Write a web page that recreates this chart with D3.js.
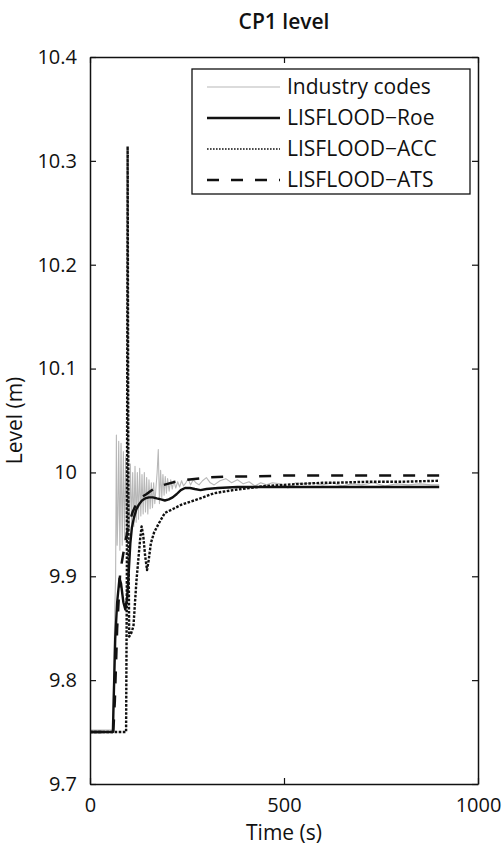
<!DOCTYPE html>
<html>
<head>
<meta charset="utf-8">
<script src="https://cdn.jsdelivr.net/npm/d3@7"></script>
<style>
  html, body { margin: 0; padding: 0; background: #fff; }
  svg { display: block; font-family: "Open Sans", "Noto Sans", sans-serif; }
</style>
</head>
<body>
<svg id="chart" width="502" height="849"></svg>
<script>
// CP1 water level over time: industry codes vs three LISFLOOD solvers

const xTicks = [0, 500, 1000];
const yTicks = [9.7, 9.8, 9.9, 10.0, 10.1, 10.2, 10.3, 10.4];
const yTickLabels = ["9.7", "9.8", "9.9", "10", "10.1", "10.2", "10.3", "10.4"];

const seriesNames = ["Industry codes", "LISFLOOD\u2212Roe", "LISFLOOD\u2212ACC", "LISFLOOD\u2212ATS"];

// Industry codes (time s, level m)
const industryTime = [0, 58, 61, 64, 66, 68, 70, 72, 74, 77, 80, 83, 86, 89, 92, 95, 98, 101, 104, 107,
  110, 113, 116, 119, 122, 125, 128, 131, 134, 137, 140, 143, 146, 149, 152, 155, 158, 161, 164, 167,
  170, 173, 176, 179, 182, 185, 188, 191, 194, 197, 200, 204, 208, 212, 216, 221, 226, 231, 236, 241,
  247, 253, 259, 266, 273, 281, 290, 300, 310, 320, 335, 350, 365, 380, 395, 410, 425, 440, 455, 470,
  490, 510, 530, 550, 575, 600, 625, 650, 675, 700, 730, 760, 790, 820, 850, 880, 900];
const industryLevel = [9.752, 9.752, 9.80, 9.87, 9.90, 10.036, 9.93, 9.96, 10.03, 9.925, 10.028, 9.93, 10.02, 9.935, 10.015, 9.94, 10.005, 9.945, 10.008, 9.95,
  10.0, 9.948, 10.006, 9.952, 10.0, 9.955, 10.004, 9.958, 9.998, 9.96, 10.0, 9.962, 9.995, 9.96, 9.993, 9.965, 9.99, 9.966, 9.99, 9.97,
  9.985, 10.0, 10.022, 9.97, 10.002, 9.976, 9.998, 9.978, 9.996, 9.98, 9.994, 9.982, 9.993, 9.984, 9.992, 9.985, 9.991, 9.986, 9.992, 9.987,
  9.99, 9.994, 9.988, 9.993, 9.99, 9.988, 9.992, 9.995, 9.99, 9.988, 9.992, 9.994, 9.99, 9.993, 9.989, 9.991, 9.987, 9.99, 9.988, 9.99,
  9.989, 9.985, 9.99, 9.989, 9.99, 9.988, 9.99, 9.987, 9.989, 9.988, 9.99, 9.987, 9.989, 9.988, 9.989, 9.988, 9.988];

// LISFLOOD-Roe
const roeTime = [0, 59, 61, 65, 70, 76, 80, 86, 91, 96, 100, 104, 108, 113, 119, 126, 134, 142, 152, 162,
  172, 183, 193, 203, 213, 223, 234, 245, 258, 270, 285, 300, 330, 380, 450, 550, 650, 750, 850, 900];
const roeLevel = [9.75, 9.75, 9.78, 9.84, 9.875, 9.898, 9.893, 9.875, 9.868, 9.88, 9.905, 9.932, 9.947, 9.956, 9.964, 9.969, 9.973, 9.975, 9.976, 9.976,
  9.975, 9.974, 9.973, 9.974, 9.976, 9.979, 9.983, 9.985, 9.985, 9.984, 9.983, 9.984, 9.985, 9.986, 9.986, 9.986, 9.986, 9.986, 9.986, 9.986];

// LISFLOOD-ACC
const accTime = [0, 93, 95, 97, 99, 101, 106, 112, 116, 120, 125, 129, 133, 137, 142, 147, 151, 157, 165, 176,
  193, 215, 236, 260, 284, 320, 369, 410, 455, 500, 541, 600, 627, 713, 800, 900];
const accLevel = [9.75, 9.75, 9.90, 10.314, 9.95, 9.842, 9.845, 9.852, 9.875, 9.897, 9.918, 9.935, 9.948, 9.94, 9.92, 9.906, 9.915, 9.932, 9.942, 9.950,
  9.961, 9.965, 9.969, 9.972, 9.975, 9.980, 9.983, 9.985, 9.987, 9.988, 9.989, 9.990, 9.990, 9.991, 9.991, 9.992];

// LISFLOOD-ATS
const atsTime = [0, 60, 64, 70, 78, 85, 92, 100, 110, 120, 132, 145, 160, 180, 200, 220, 250, 300, 350, 400,
  500, 600, 700, 800, 900];
const atsLevel = [9.75, 9.75, 9.78, 9.85, 9.905, 9.92, 9.935, 9.95, 9.962, 9.97, 9.976, 9.979, 9.983, 9.987, 9.989, 9.991, 9.993, 9.995, 9.996, 9.996,
  9.997, 9.997, 9.997, 9.997, 9.997];

const svg = d3.select("#chart");
const margin = { left: 90, right: 24, top: 57, bottom: 65 };
const W = 502, H = 849;
const x0 = margin.left, x1 = W - margin.right;
const y0 = H - margin.bottom, y1 = margin.top;

const x = d3.scaleLinear().domain([0, 1000]).range([x0, x1]);
const y = d3.scaleLinear().domain([9.7, 10.4]).range([y0, y1]);

const zip = (ts, vs) => ts.map((t, i) => [t, vs[i]]);
const line = d3.line().x(d => x(d[0])).y(d => y(d[1]));

const styles = [
  { stroke: "#b8b8b8", width: 1.1, dash: null },
  { stroke: "#111", width: 2.4, dash: null },
  { stroke: "#111", width: 2.4, dash: "2.6,1.5" },
  { stroke: "#111", width: 2.5, dash: "12,12" }
];
const series = [
  zip(industryTime, industryLevel),
  zip(roeTime, roeLevel),
  zip(accTime, accLevel),
  zip(atsTime, atsLevel)
];

const plot = svg.append("g");
// drawing order: grey reference, dotted, dashed, solid on top
[0, 2, 3, 1].forEach(i => {
  plot.append("path")
    .datum(series[i])
    .attr("fill", "none")
    .attr("stroke", styles[i].stroke)
    .attr("stroke-width", styles[i].width)
    .attr("stroke-dasharray", styles[i].dash)
    .attr("stroke-linejoin", "round")
    .attr("d", line);
});

// axes box with inward ticks on all four sides
const tickLen = 6;

const bottomAxis = d3.axisBottom(x).tickValues(xTicks).tickSizeInner(-tickLen).tickSizeOuter(0).tickPadding(14).tickFormat(d3.format("d"));
const topAxis = d3.axisTop(x).tickValues(xTicks).tickSizeInner(-tickLen).tickSizeOuter(0).tickFormat("");
const leftAxis = d3.axisLeft(y).tickValues(yTicks).tickSizeInner(-tickLen).tickSizeOuter(0).tickPadding(13).tickFormat((d, i) => yTickLabels[i]);
const rightAxis = d3.axisRight(y).tickValues(yTicks).tickSizeInner(-tickLen).tickSizeOuter(0).tickFormat("");

function styleAxis(g) {
  g.select(".domain").attr("stroke", "#111").attr("stroke-width", 1.5);
  g.selectAll(".tick line").attr("stroke", "#111").attr("stroke-width", 1.2);
  g.selectAll(".tick text").attr("fill", "#111").attr("font-size", 20).attr("font-family", "Open Sans, Noto Sans, sans-serif");
}

svg.append("g").attr("transform", `translate(0,${y0})`).call(bottomAxis).call(styleAxis);
svg.append("g").attr("transform", `translate(0,${y1})`).call(topAxis).call(styleAxis);
svg.append("g").attr("transform", `translate(${x0},0)`).call(leftAxis).call(styleAxis);
svg.append("g").attr("transform", `translate(${x1},0)`).call(rightAxis).call(styleAxis);

// title and axis labels
svg.append("text")
  .attr("x", (x0 + x1) / 2).attr("y", 29)
  .attr("text-anchor", "middle").attr("font-size", 21).attr("font-weight", 600).attr("fill", "#111")
  .text("CP1 level");
svg.append("text")
  .attr("x", (x0 + x1) / 2).attr("y", 840)
  .attr("text-anchor", "middle").attr("font-size", 21).attr("fill", "#111")
  .text("Time (s)");
svg.append("text")
  .attr("transform", `translate(22,${(y0 + y1) / 2}) rotate(-90)`)
  .attr("text-anchor", "middle").attr("font-size", 21).attr("fill", "#111")
  .text("Level (m)");

// legend
const lg = svg.append("g").attr("transform", "translate(192,69)");
lg.append("rect").attr("width", 278).attr("height", 125)
  .attr("fill", "#fff").attr("stroke", "#111").attr("stroke-width", 1.3);
seriesNames.forEach((name, i) => {
  const ry = 18 + i * 31;
  lg.append("line")
    .attr("x1", 15).attr("x2", 88).attr("y1", ry).attr("y2", ry)
    .attr("stroke", styles[i].stroke)
    .attr("stroke-width", i === 2 ? 1.6 : styles[i].width)
    .attr("stroke-dasharray", i === 2 ? "1.6,1.4" : styles[i].dash);
  lg.append("text")
    .attr("x", 95).attr("y", ry).attr("dy", "0.35em")
    .attr("font-size", 21).attr("fill", "#111")
    .text(name);
});
</script>
</body>
</html>
